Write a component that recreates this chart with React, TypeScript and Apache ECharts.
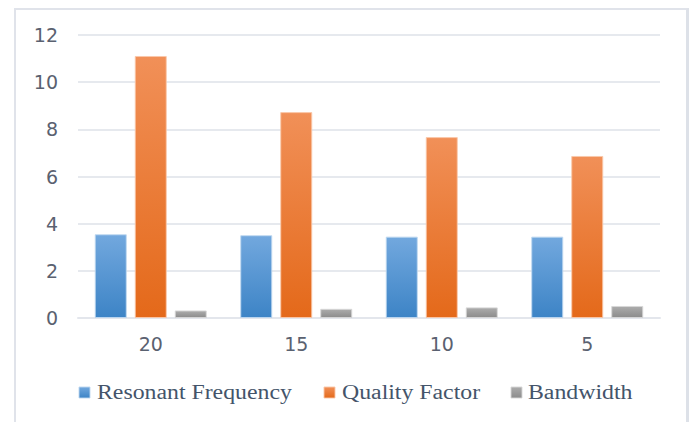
import React, { useEffect, useRef } from "react";
import * as echarts from "echarts";

const categories = ["20", "15", "10", "5"];
const seriesNames = ["Resonant Frequency", "Quality Factor", "Bandwidth"];
const resonantFrequency = [3.55, 3.51, 3.45, 3.45];
const qualityFactor = [11.11, 8.73, 7.67, 6.87];
const bandwidth = [0.32, 0.39, 0.45, 0.51];
const yTicks = { min: 0, max: 12, interval: 2 };

// top / bottom gradient stops and edge colour for each series
const palette = [
  { top: "#72a8de", bottom: "#3d84c6", edge: "rgba(190,215,240,0.9)", key: "#4a8fd0" },
  { top: "#f19058", bottom: "#e4691a", edge: "rgba(250,200,170,0.9)", key: "#ee7a30" },
  { top: "#acacac", bottom: "#8c8c8c", edge: "rgba(215,215,215,0.9)", key: "#a0a0a0" },
];

// legend entries: key square x and text x
const legendSlots = [
  { keyX: 79, textX: 97 },
  { keyX: 324, textX: 342 },
  { keyX: 511, textX: 528 },
];

const grad = (top: string, bottom: string) =>
  new echarts.graphic.LinearGradient(0, 0, 0, 1, [
    { offset: 0, color: top },
    { offset: 1, color: bottom },
  ]);

export default function App() {
  const ref = useRef<HTMLDivElement>(null);

  useEffect(() => {
    if (!ref.current) return;
    const chart = echarts.init(ref.current, null, { renderer: "svg" });
    const values = [resonantFrequency, qualityFactor, bandwidth];

    const legendGraphics = seriesNames.flatMap((name, i) => [
      {
        type: "rect",
        shape: { x: legendSlots[i].keyX, y: 387, width: 11, height: 11 },
        style: {
          fill: grad(palette[i].top, palette[i].bottom),
          stroke: palette[i].edge,
          lineWidth: 1,
        },
      },
      {
        type: "text",
        x: legendSlots[i].textX,
        y: 392.5,
        scaleX: 1.19,
        style: {
          text: name,
          font: "20px 'Liberation Serif', serif",
          fill: "#44546a",
          textVerticalAlign: "middle",
        },
      },
    ]);

    chart.setOption({
      animation: false,
      backgroundColor: "transparent",
      grid: { left: 78, right: 30, top: 35, bottom: 104 },
      xAxis: {
        type: "category",
        data: categories,
        axisLine: { show: true, lineStyle: { color: "#e3e6ec", width: 2 } },
        axisTick: { show: false },
        axisLabel: {
          fontFamily: "'DejaVu Sans', sans-serif",
          fontSize: 19,
          color: "#5a6170",
          margin: 16,
        },
      },
      yAxis: {
        type: "value",
        min: yTicks.min,
        max: yTicks.max,
        interval: yTicks.interval,
        axisLine: { show: false },
        axisTick: { show: false },
        splitLine: { lineStyle: { color: "#e6e9ee", width: 2 } },
        axisLabel: {
          fontFamily: "'DejaVu Sans', sans-serif",
          fontSize: 19,
          color: "#5a6170",
          margin: 20,
        },
      },
      graphic: legendGraphics,
      series: seriesNames.map((name, i) => ({
        name,
        type: "bar",
        data: values[i],
        barWidth: 32,
        barGap: "25%",
        itemStyle: {
          color: grad(palette[i].top, palette[i].bottom),
          borderColor: palette[i].edge,
          borderWidth: 1,
        },
      })),
    });
    return () => chart.dispose();
  }, []);

  return (
    <div
      style={{
        position: "fixed",
        left: 0,
        top: 0,
        width: 690,
        height: 422,
        background: "#ffffff",
        overflow: "hidden",
      }}
    >
      <div
        style={{
          position: "absolute",
          left: 14,
          top: 8,
          width: 670,
          height: 430,
          borderTop: "2px solid #e0e3ea",
          borderLeft: "2px solid #e0e3ea",
          borderRight: "3px solid #dde1e8",
        }}
      />
      <div
        ref={ref}
        style={{ position: "absolute", left: 0, top: 0, width: 690, height: 422 }}
      />
    </div>
  );
}
